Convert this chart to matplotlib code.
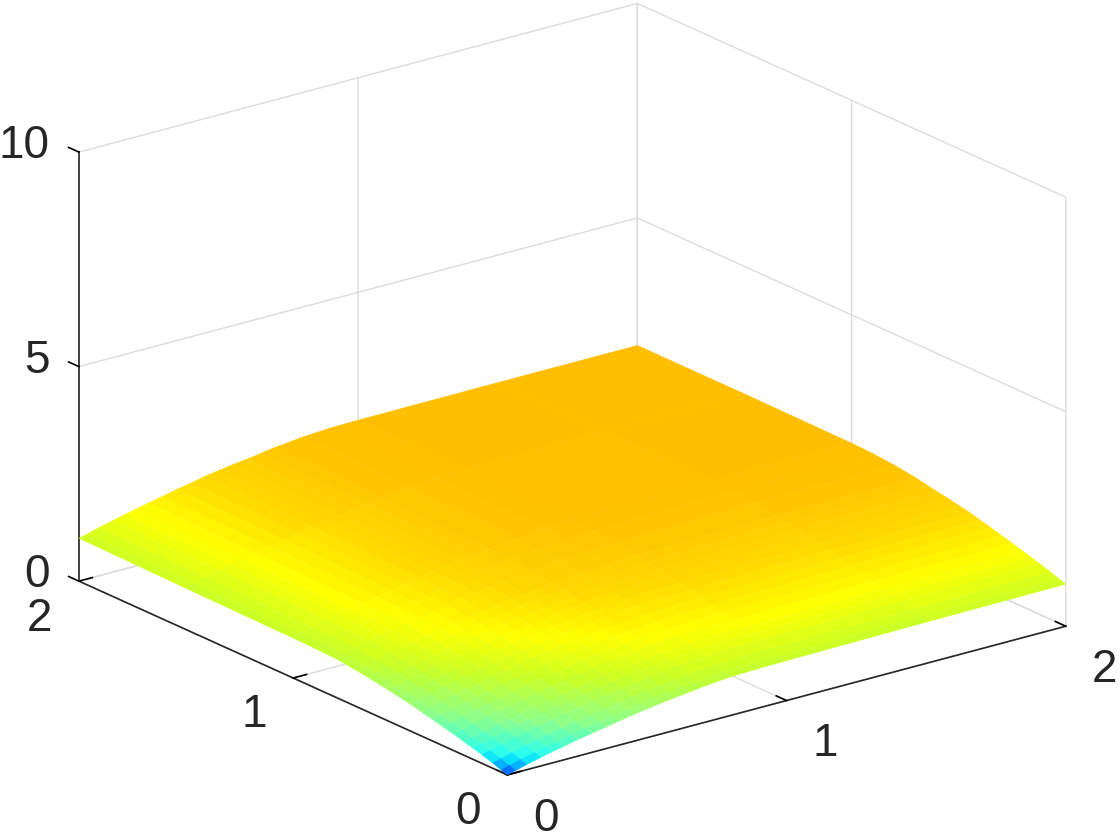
import matplotlib
matplotlib.use('Agg')
import matplotlib.pyplot as plt
import numpy as np
from matplotlib.colors import LinearSegmentedColormap, Normalize
from mpl_toolkits.mplot3d import proj3d

# grid nodes (denser near the low corner)
x_nodes = [0, .03, .07, .12, .16, .2, .25, .3, .35, .4, .45, .5, .55, .6, .65, .7, .8, .9, 1, 1.5, 2]
y_nodes = [0, .03, .07, .12, .16, .2, .25, .3, .35, .4, .45, .5, .55, .6, .65, .7, .8, .9, 1, 1.5, 2]

# surface heights, one row per y node
z_rows = [
    [0, .05, .12, .20, .26, .31, .38, .44, .50, .56, .62, .67, .72, .76, .80, .84, .90, .92, .93, .96, .98],
    [.05, .10, .17, .25, .31, .36, .43, .49, .55, .61, .67, .72, .77, .81, .85, .89, .95, .97, .98, 1.01, 1.03],
    [.12, .17, .24, .32, .38, .43, .50, .56, .62, .68, .74, .79, .84, .88, .92, .96, 1.02, 1.04, 1.05, 1.08, 1.10],
    [.20, .25, .32, .40, .46, .51, .58, .64, .70, .76, .82, .87, .92, .96, 1.00, 1.04, 1.10, 1.12, 1.13, 1.16, 1.18],
    [.26, .31, .38, .46, .52, .57, .64, .70, .76, .82, .88, .93, .98, 1.02, 1.06, 1.10, 1.16, 1.18, 1.19, 1.22, 1.24],
    [.31, .36, .43, .51, .57, .62, .69, .75, .81, .87, .93, .98, 1.03, 1.07, 1.11, 1.15, 1.21, 1.23, 1.24, 1.28, 1.30],
    [.38, .43, .50, .58, .64, .69, .76, .82, .88, .94, 1.00, 1.05, 1.10, 1.14, 1.18, 1.22, 1.28, 1.30, 1.31, 1.35, 1.37],
    [.44, .49, .56, .64, .70, .75, .82, .88, .94, 1.00, 1.06, 1.11, 1.16, 1.20, 1.24, 1.28, 1.34, 1.36, 1.38, 1.42, 1.44],
    [.50, .55, .62, .70, .76, .81, .88, .94, 1.00, 1.06, 1.12, 1.17, 1.22, 1.26, 1.30, 1.34, 1.40, 1.42, 1.44, 1.49, 1.51],
    [.56, .61, .68, .76, .82, .87, .94, 1.00, 1.06, 1.12, 1.18, 1.23, 1.28, 1.32, 1.36, 1.40, 1.46, 1.48, 1.50, 1.55, 1.57],
    [.62, .67, .74, .82, .88, .93, 1.00, 1.06, 1.12, 1.18, 1.24, 1.29, 1.34, 1.38, 1.42, 1.46, 1.52, 1.54, 1.56, 1.62, 1.64],
    [.67, .72, .79, .87, .93, .98, 1.05, 1.11, 1.17, 1.23, 1.29, 1.34, 1.39, 1.43, 1.47, 1.51, 1.57, 1.59, 1.61, 1.67, 1.69],
    [.72, .77, .84, .92, .98, 1.03, 1.10, 1.16, 1.22, 1.28, 1.34, 1.39, 1.44, 1.48, 1.52, 1.56, 1.62, 1.64, 1.66, 1.72, 1.74],
    [.76, .81, .88, .96, 1.02, 1.07, 1.14, 1.20, 1.26, 1.32, 1.38, 1.43, 1.48, 1.52, 1.56, 1.60, 1.66, 1.68, 1.70, 1.76, 1.78],
    [.80, .85, .92, 1.00, 1.06, 1.11, 1.18, 1.24, 1.30, 1.36, 1.42, 1.47, 1.52, 1.56, 1.60, 1.64, 1.70, 1.72, 1.75, 1.81, 1.83],
    [.84, .89, .96, 1.04, 1.10, 1.15, 1.22, 1.28, 1.34, 1.40, 1.46, 1.51, 1.56, 1.60, 1.64, 1.68, 1.74, 1.76, 1.80, 1.86, 1.88],
    [.90, .95, 1.02, 1.10, 1.16, 1.21, 1.28, 1.34, 1.40, 1.46, 1.52, 1.57, 1.62, 1.66, 1.70, 1.74, 1.80, 1.83, 1.87, 1.93, 1.95],
    [.92, .97, 1.04, 1.12, 1.18, 1.23, 1.30, 1.36, 1.42, 1.48, 1.54, 1.59, 1.64, 1.68, 1.72, 1.76, 1.83, 1.88, 1.92, 1.97, 1.99],
    [.93, .98, 1.05, 1.13, 1.19, 1.24, 1.31, 1.38, 1.44, 1.50, 1.56, 1.61, 1.66, 1.70, 1.75, 1.80, 1.87, 1.92, 1.95, 2.00, 2.01],
    [.96, 1.01, 1.08, 1.16, 1.22, 1.28, 1.35, 1.42, 1.49, 1.55, 1.62, 1.67, 1.72, 1.76, 1.81, 1.86, 1.93, 1.97, 2.00, 2.02, 2.03],
    [1.00, 1.05, 1.12, 1.20, 1.26, 1.32, 1.39, 1.46, 1.53, 1.59, 1.66, 1.71, 1.76, 1.80, 1.85, 1.90, 1.97, 2.01, 2.02, 2.03, 2.03],
]

# colour stops: height and colour seen at that height
color_heights = [0, .06, .15, .25, .55, .95, 1.3, 1.65, 2.03]
color_values = ['#0032ff', '#0082ff', '#00dcff', '#30ffe8', '#8cff8c', '#c8ff28', '#ffff00', '#ffd700', '#ffbe00']

x_ticks = [0, 1, 2]
y_ticks = [0, 1, 2]
z_ticks = [0, 5, 10]

plt.rcParams['font.family'] = ['Liberation Sans', 'DejaVu Sans']

X, Y = np.meshgrid(x_nodes, y_nodes)
Z = np.array(z_rows)

top = color_heights[-1]
cmap = LinearSegmentedColormap.from_list('surf', [(h / top, c) for h, c in zip(color_heights, color_values)], N=512)

fig = plt.figure(figsize=(11.2, 8.4), dpi=100)
ax = fig.add_axes([1 / 1120, 19.5 / 840, 1, 1], projection='3d')
ax.set_proj_type('ortho')
ax.view_init(elev=20.3, azim=-127.5)
ax.set_box_aspect((1, 1, 0.65), zoom=1.266)

surf = ax.plot_surface(X, Y, Z, cmap=cmap, norm=Normalize(0, top), rstride=1, cstride=1,
                       linewidth=0.3, antialiased=True, shade=False)
surf.set_edgecolor('face')
surf.set_clip_on(False)

ax.set_xlim(0, 2, view_margin=0)
ax.set_ylim(0, 2, view_margin=0)
ax.set_zlim(0, 10, view_margin=0)
ax.set_xticks(x_ticks)
ax.set_yticks(y_ticks)
ax.set_zticks(z_ticks)
ax.set_xticklabels([])
ax.set_yticklabels([])
ax.set_zticklabels([])

for axis in [ax.xaxis, ax.yaxis, ax.zaxis]:
    axis.set_pane_color((1, 1, 1, 0))
    axis.pane.set_edgecolor('#dcdcdc')
    axis.line.set_color('#262626')
    axis.line.set_linewidth(1.2)
    axis._axinfo['grid']['color'] = '#dcdcdc'
    axis._axinfo['grid']['linewidth'] = 1
    axis._axinfo['tick']['color'] = '#262626'
    axis._axinfo['tick']['linewidth'] = {True: 1.2, False: 1.2}
    axis._axinfo['tick']['inward_factor'] = 0
    axis._axinfo['tick']['outward_factor'] = 0.3

# z ticks point along y in the reference
ax.zaxis._get_tickdir = lambda pos: 1


# tick labels, placed in data units just off each axis
def tick_label(x, y, z, s, ha):
    px, py, _ = proj3d.proj_transform(x, y, z, ax.get_proj())
    ax.text2D(px, py, s, transform=ax.transData, fontsize=33, color='#262626', ha=ha, va='center', clip_on=False)


for t in x_ticks:
    tick_label(t, -.181, -.615, str(t), 'center')
for t in y_ticks:
    tick_label(-.14, t, -.63, str(t), 'center')
for t in z_ticks:
    tick_label(-.104, 2, t + .32, str(t), 'right')

plt.savefig('out.png', dpi=100)
